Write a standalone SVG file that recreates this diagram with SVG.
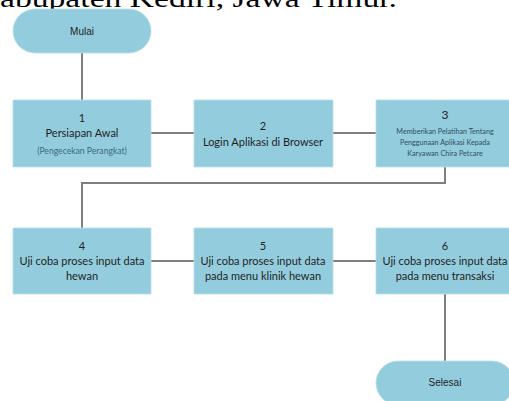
<svg xmlns="http://www.w3.org/2000/svg" width="509" height="401" viewBox="0 0 509 401">
<style>
.box{fill:#93CDDD;stroke:#B7DEE8;stroke-width:0.8}
.ln{fill:none;stroke:#7F7F7F;stroke-width:2}
.t{font-family:Lato,"Open Sans",sans-serif;font-size:11px;fill:#1F1F1F;text-anchor:middle}
.s{font-family:Lato,"Open Sans",sans-serif;font-size:7.2px;fill:#2F4F5F;text-anchor:middle}
.a{font-family:"Liberation Sans",Arial,sans-serif;font-size:10px;fill:#1F1F1F;text-anchor:middle}
</style>
<rect width="509" height="401" fill="#FFFFFF"/>
<text x="0" y="7" font-family="Liberation Serif,serif" font-size="25" fill="#000" textLength="397" lengthAdjust="spacingAndGlyphs">abupaten Kediri, Jawa Timur.</text>
<g id="connectors">
<path class="ln" d="M82 53V100"/>
<path class="ln" d="M151 133H194"/>
<path class="ln" d="M333 133H376"/>
<path class="ln" d="M445 167V183H82V228"/>
<path class="ln" d="M151 261H194"/>
<path class="ln" d="M333 261H376"/>
<path class="ln" d="M445 294V361"/>
</g>
<g id="mulai">
<rect class="box" x="13" y="9" width="138" height="44" rx="22"/>
<text class="a" x="82" y="35">Mulai</text>
</g>
<g id="n1">
<rect class="box" x="13" y="100" width="138" height="67"/>
<text class="t" x="82" y="122">1</text>
<text class="t" x="82" y="137">Persiapan Awal</text>
<text class="s" x="82" y="154" style="font-size:8.6px;fill:#3A6A80">(Pengecekan Perangkat)</text>
</g>
<g id="n2">
<rect class="box" x="194" y="100" width="139" height="67"/>
<text class="t" x="263" y="130">2</text>
<text class="t" x="263" y="146">Login Aplikasi di Browser</text>
</g>
<g id="n3">
<rect class="box" x="376" y="100" width="138" height="67"/>
<text class="t" x="445" y="119" style="font-size:12px">3</text>
<text class="s" x="445" y="134">Memberikan Pelatihan Tentang</text>
<text class="s" x="445" y="145">Penggunaan Aplikasi Kepada</text>
<text class="s" x="445" y="156">Karyawan Chira Petcare</text>
</g>
<g id="n4">
<rect class="box" x="13" y="228" width="138" height="66"/>
<text class="t" x="82" y="250">4</text>
<text class="t" x="82" y="265">Uji coba proses input data</text>
<text class="t" x="82" y="280">hewan</text>
</g>
<g id="n5">
<rect class="box" x="194" y="228" width="139" height="66"/>
<text class="t" x="263" y="250">5</text>
<text class="t" x="263" y="265">Uji coba proses input data</text>
<text class="t" x="263" y="280">pada menu klinik hewan</text>
</g>
<g id="n6">
<rect class="box" x="376" y="228" width="138" height="66"/>
<text class="t" x="445" y="250">6</text>
<text class="t" x="445" y="265">Uji coba proses input data</text>
<text class="t" x="445" y="280">pada menu transaksi</text>
</g>
<g id="selesai">
<rect class="box" x="376" y="361" width="138" height="44" rx="22"/>
<text class="a" x="445" y="386">Selesai</text>
</g>
</svg>
